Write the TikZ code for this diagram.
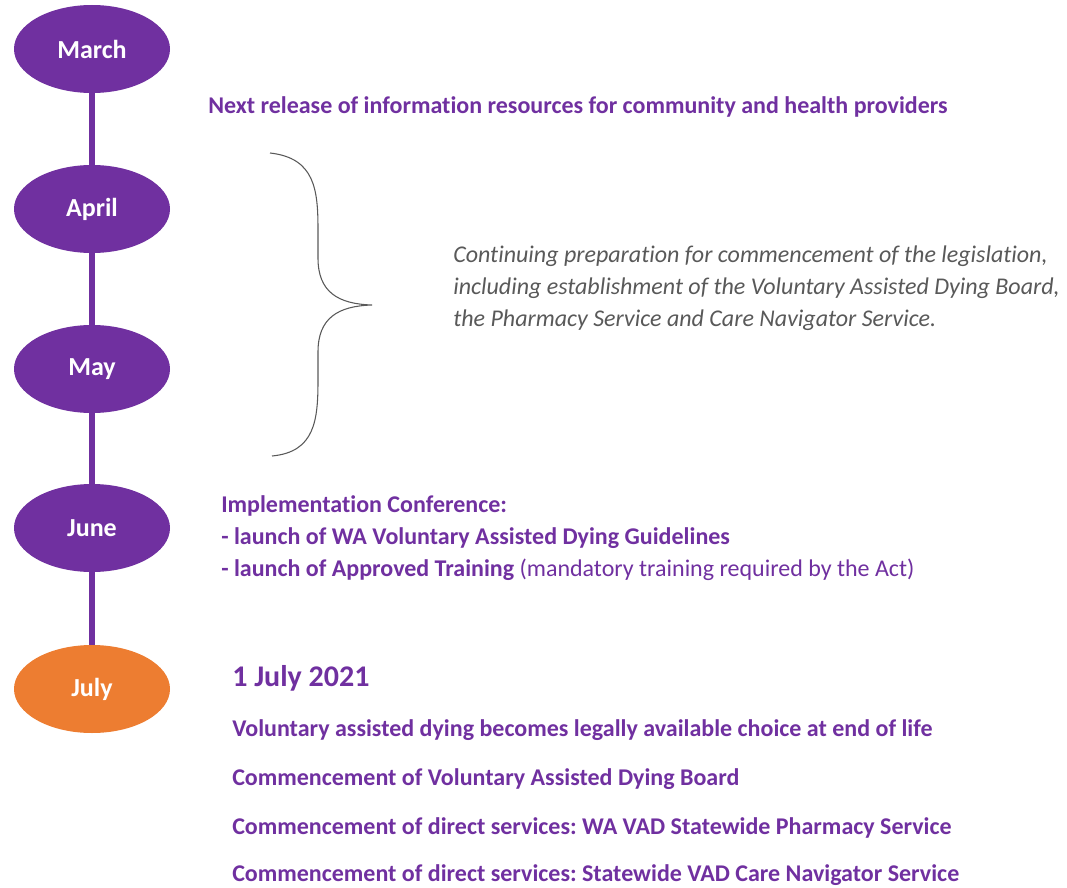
\documentclass[tikz,border=0pt]{standalone}
\usepackage{fontspec}
\setmainfont{Carlito}[Ligatures=NoCommon]
\usetikzlibrary{positioning}
\usetikzlibrary{shapes.geometric}
\frenchspacing

\definecolor{vadpurple}{HTML}{7030A0}
\definecolor{vadorange}{HTML}{ED7D31}
\definecolor{notegray}{HTML}{595959}

\tikzset{
  month/.style={ellipse, fill=vadpurple, minimum width=117pt, minimum height=66pt,
    inner sep=0pt, text=white, font=\bfseries\fontsize{19.5}{23}\selectfont},
  stem/.style={draw=vadpurple, line width=4.5pt},
  event/.style={anchor=west, inner sep=0pt, text=vadpurple,
    font=\bfseries\fontsize{18}{22}\selectfont},
  note/.style={anchor=west, inner sep=0pt, text=notegray, align=left,
    font=\itshape\fontsize{18}{24}\selectfont},
}

\begin{document}
\begin{tikzpicture}[x=0.75pt,y=-0.75pt]
\useasboundingbox (0,0) rectangle (1067,888);

% months
\node[month] (march) at (92,49) {March};
\node[month] (april) at (92,209) {April};
\node[month] (may) at (92,369) {May};
\node[month] (june) at (92,528) {June};
\node[month, fill=vadorange] (july) at (92,689) {July};

\draw[stem] (march) -- (april);
\draw[stem] (april) -- (may);
\draw[stem] (may) -- (june);
\draw[stem] (june) -- (july);

% March
\node[event] (release) at (208,107) {Next release of information resources for community and health providers};

% April--May
\coordinate (btop) at (270,153);
\coordinate (btip) at (372,305);
\coordinate (bbot) at (272,456);
\draw[notegray, line width=0.8pt] (btop) .. controls (315,158) and (318,190) .. (318,230)
  -- (318,258) .. controls (318,292) and (338,304) .. (btip)
  .. controls (338,306) and (318,318) .. (318,352)
  -- (318,380) .. controls (318,420) and (315,452) .. (bbot);
\node[note] (prep) at (453,288) {Continuing preparation for commencement of the legislation,\\
  including establishment of the Voluntary Assisted Dying Board,\\
  the Pharmacy Service and Care Navigator Service.};

% June
\node[event] (conf) at (221,506) {Implementation Conference:};
\node[event] (guide) at (221,538) {- launch of WA Voluntary Assisted Dying Guidelines};
\node[event] (train) at (221,570) {- launch of Approved Training \mdseries(mandatory training required by the Act)};

% July
\node[event, font=\bfseries\fontsize{22.5}{27}\selectfont] (date) at (232,678) {1 July 2021};
\node[event] (legal) at (232,730) {Voluntary assisted dying becomes legally available choice at end of life};
\node[event] (board) at (232,779) {Commencement of Voluntary Assisted Dying Board};
\node[event] (pharm) at (232,828) {Commencement of direct services: WA VAD Statewide Pharmacy Service};
\node[event] (nav) at (232,875) {Commencement of direct services: Statewide VAD Care Navigator Service};
\end{tikzpicture}
\end{document}
